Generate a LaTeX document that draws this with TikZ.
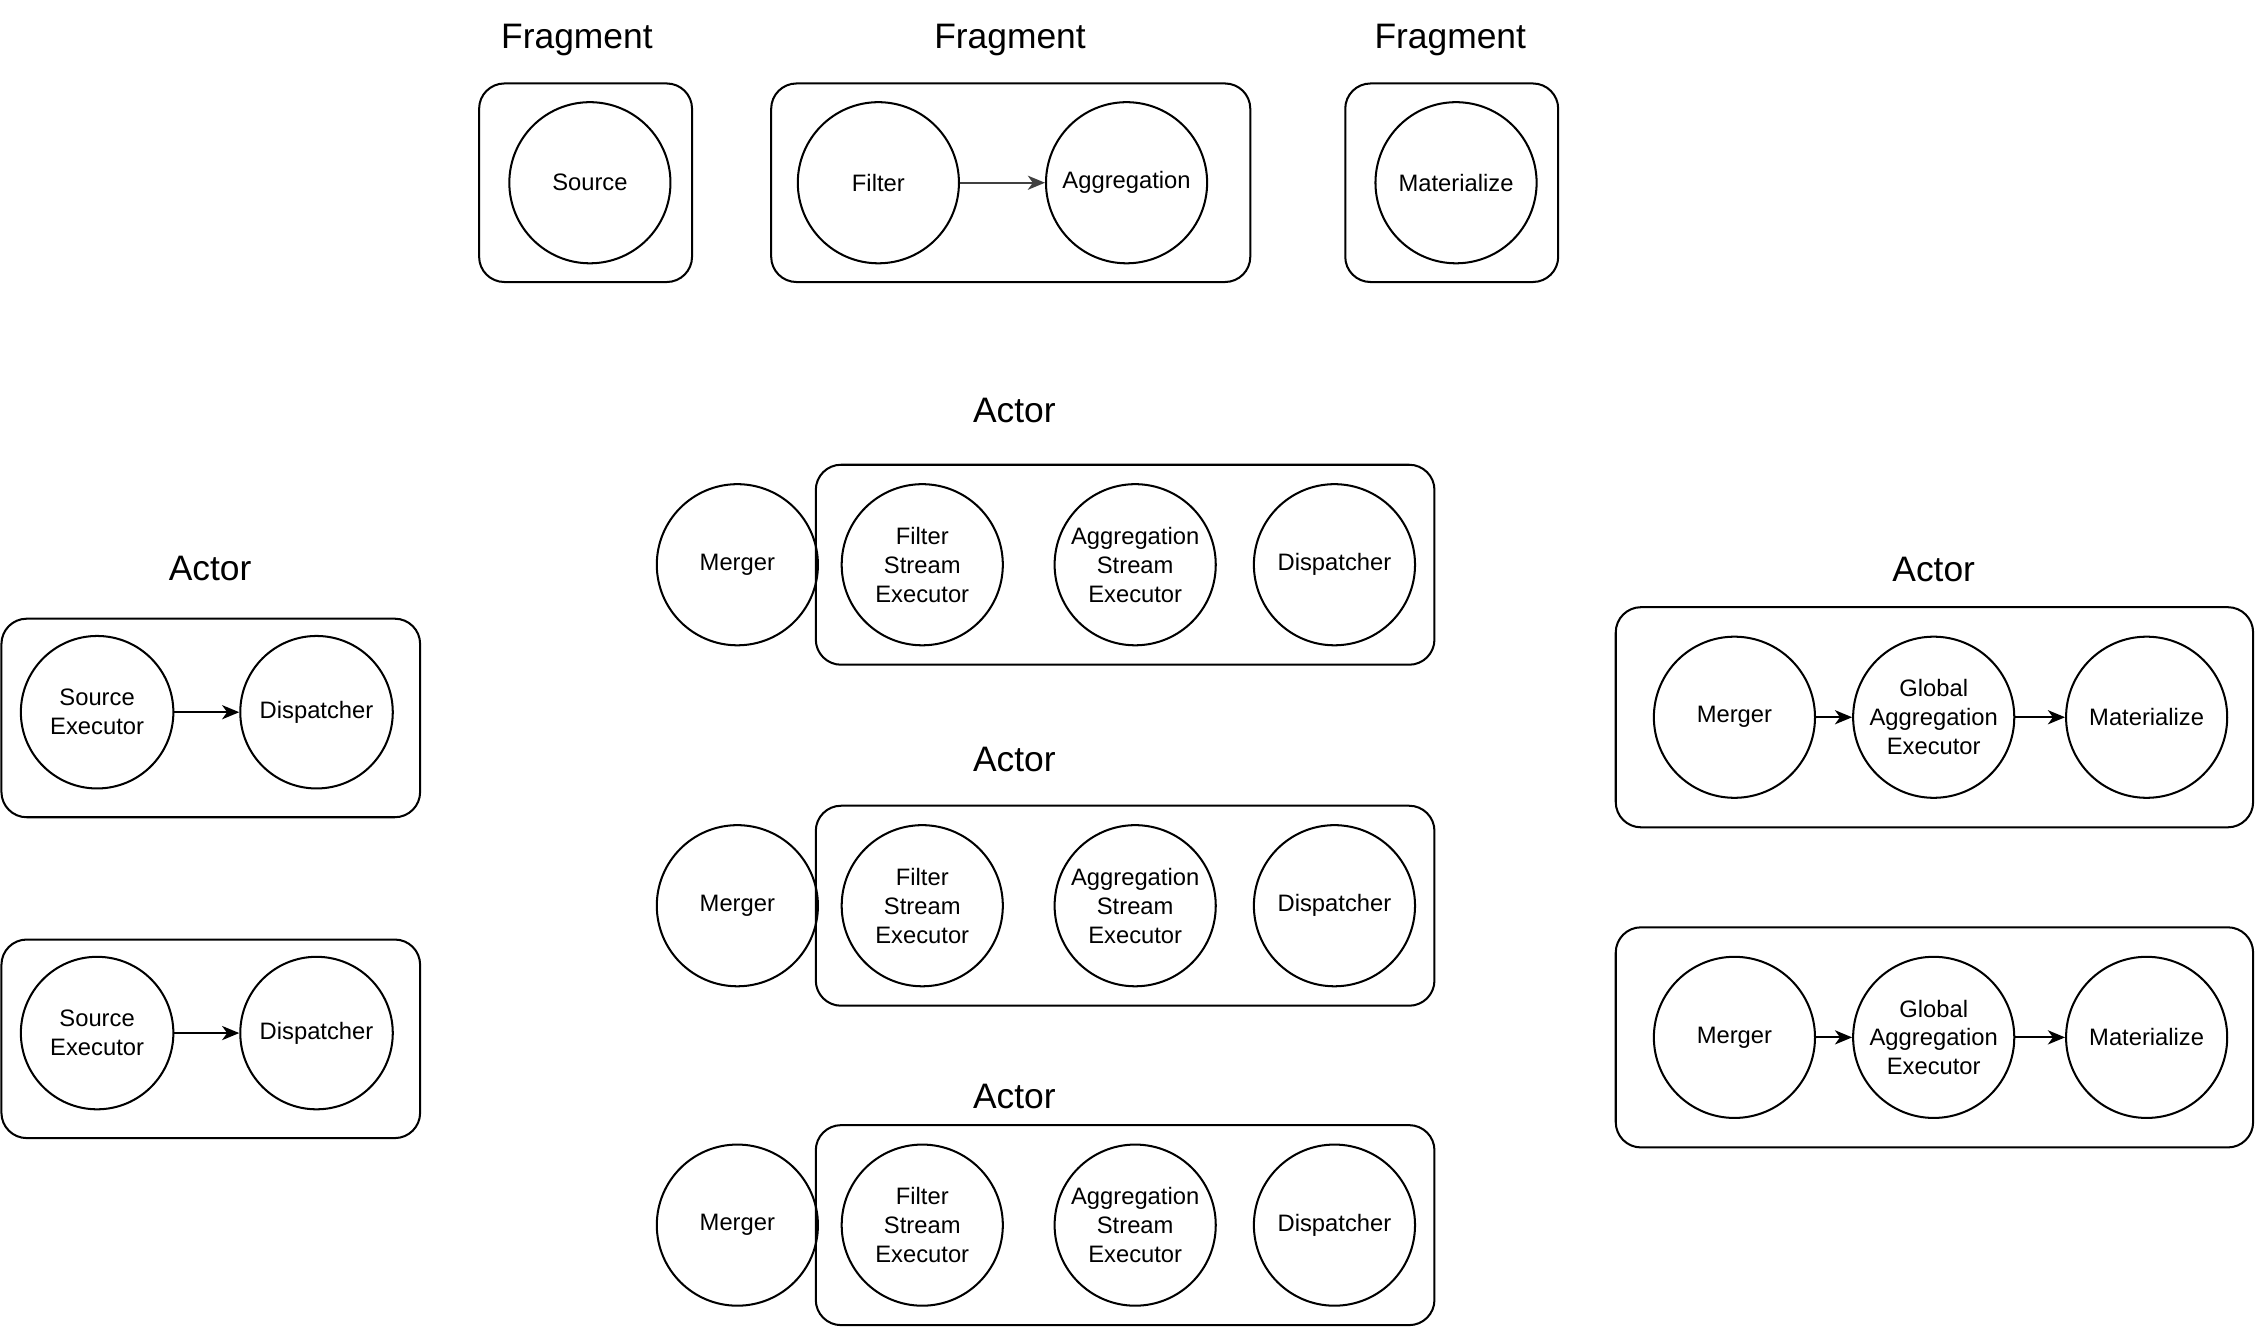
\documentclass[tikz,border=0pt]{standalone}
\usepackage{fontspec}
\setmainfont{Liberation Sans}
\usetikzlibrary{arrows.meta}
\begin{document}
\begin{tikzpicture}[x=0.1mm, y=-0.1mm,
    op/.style={draw, circle, line width=0.4pt, minimum size=11.2mm, inner sep=0pt, align=center, font=\fontsize{4.7}{5.7}\selectfont},
    opsmall/.style={op, minimum size=10.6mm},
    grp/.style={draw, line width=0.4pt, rounded corners=5pt},
    title/.style={font=\fontsize{7}{8}\selectfont},
    flow/.style={-{Stealth[length=3.4pt, width=2.8pt, inset=1pt]}, line width=0.4pt}]
  \useasboundingbox (0,0) rectangle (1568,922);
  % fragments
  \node[title] (tfa) at (401,28) {Fragment};
  \node[title] (tfb) at (702,28) {Fragment};
  \node[title] (tfc) at (1008,28) {Fragment};
  \draw[grp] (333,58) rectangle (481,196);
  \draw[grp] (536,58) rectangle (869,196);
  \draw[grp] (935,58) rectangle (1083,196);
  \node[op] (src) at (410,127) {Source};
  \node[op] (filt) at (610.5,127) {Filter};
  \node[op] (aggr) at (783,127) {Aggregation};
  \node[op] (mat) at (1012,127) {Materialize};
  \draw[flow, draw=black!75, fill=black!75] (filt) -- (aggr);
  % source actors
  \node[title] (tal) at (146,395) {Actor};
  \foreach \y/\n in {495/1, 718/2} {
    \draw[grp] (1,\y-65) rectangle (292,\y+73);
    \node[opsmall] (srcex\n) at (67.5,\y) {Source\\Executor};
    \node[opsmall] (disp\n) at (220,\y) {Dispatcher};
    \draw[flow] (srcex\n) -- (disp\n);
  }
  % filter / aggregation actors
  \foreach \y/\t/\n in {392.5/285/1, 629.5/528/2, 851.5/762/3} {
    \node[title] (tam\n) at (705,\t) {Actor};
    \draw[grp] (567,\y-69.5) rectangle (997,\y+69.5);
    \node[op] (merg\n) at (512.5,\y) {Merger};
    \node[op] (fse\n) at (641,\y) {Filter\\Stream\\Executor};
    \node[op] (ase\n) at (789,\y) {Aggregation\\Stream\\Executor};
    \node[op] (dsp\n) at (927.5,\y) {Dispatcher};
  }
  % materialize actors
  \node[title] (tar) at (1344,396) {Actor};
  \foreach \y/\n in {498.5/1, 721/2} {
    \draw[grp] (1123,\y-76.5) rectangle (1566,\y+76.5);
    \node[op] (mrg\n) at (1205.5,\y) {Merger};
    \node[op] (gae\n) at (1344,\y) {Global\\Aggregation\\Executor};
    \node[op] (matl\n) at (1492,\y) {Materialize};
    \draw[flow] (mrg\n) -- (gae\n);
    \draw[flow] (gae\n) -- (matl\n);
  }
\end{tikzpicture}
\end{document}
